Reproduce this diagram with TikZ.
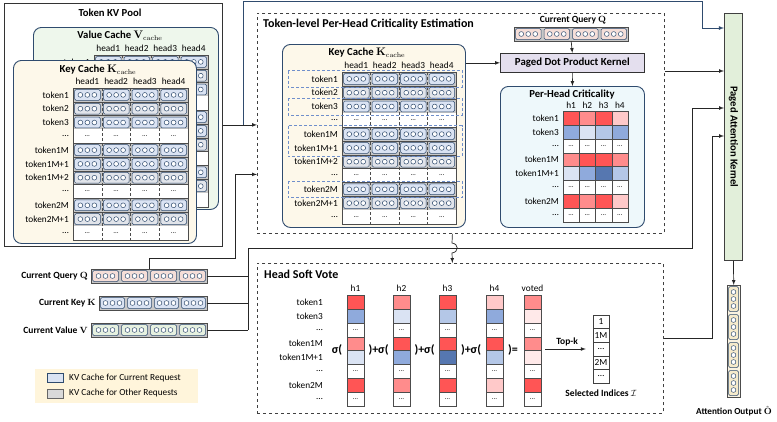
\documentclass[tikz,border=0pt]{standalone}
\usepackage[no-math]{fontspec}
\setmainfont{Carlito}
\usepackage{amsmath}
\usetikzlibrary{calc}

\definecolor{navy}{HTML}{2F4B6E}
\definecolor{rowgray}{HTML}{C8C8C8}
\definecolor{cellcur}{HTML}{DAE3F3}
\definecolor{cellother}{HTML}{E1E4EA}
\definecolor{kcream}{HTML}{FDF8EA}
\definecolor{vgreen}{HTML}{EEF7EC}
\definecolor{critbg}{HTML}{EEF8FB}
\definecolor{lav}{HTML}{E4DFEE}
\definecolor{pakgreen}{HTML}{E2EFDA}
\definecolor{qcell}{HTML}{F5DED8}
\definecolor{vcell}{HTML}{E6F1E0}
\definecolor{outcell}{HTML}{F5EACB}
\definecolor{legbg}{HTML}{FFF5DB}
\definecolor{hrA}{HTML}{FFE9E9}
\definecolor{hrB}{HTML}{FFC9C9}
\definecolor{hrC}{HTML}{FF8C8C}
\definecolor{hrD}{HTML}{FF5555}
\definecolor{hbA}{HTML}{DAE3F3}
\definecolor{hbB}{HTML}{B4C7E7}
\definecolor{hbC}{HTML}{8FAADC}
\definecolor{hbD}{HTML}{5677B0}
\definecolor{boxdash}{HTML}{6F8FCB}

\tikzset{
  ln/.style={line width=0.7pt, draw=black!85},
  arr/.style={ln, -latex},
  navyln/.style={line width=0.8pt, draw=navy, -latex},
  poolbox/.style={draw=black!80, line width=0.8pt, fill=white, anchor=north west, inner sep=0pt},
  cachebox/.style={draw=navy, line width=0.9pt, rounded corners=8pt, anchor=north west, inner sep=0pt},
  stagebox/.style={draw=black!75, dashed, line width=0.8pt, anchor=north west, inner sep=0pt},
  barnode/.style={anchor=north west, inner sep=0pt, minimum height=14pt},
  bigtitle/.style={font=\bfseries\fontsize{12}{14}\selectfont, inner sep=0pt},
  boxtitle/.style={font=\bfseries\fontsize{10.7}{12}\selectfont, inner sep=0pt},
  smalltitle/.style={font=\bfseries\fontsize{9.5}{11}\selectfont, inner sep=0pt},
  lbl/.style={font=\fontsize{9.3}{10}\selectfont, inner sep=0pt},
  dotlbl/.style={font=\fontsize{7}{8}\selectfont, inner sep=0pt},
  sigma/.style={font=\bfseries\fontsize{12}{14}\selectfont, inner sep=0pt},
  kvcell/.style={draw=navy, line width=0.5pt, rounded corners=1.5pt},
  dotc/.style={draw=navy, line width=0.5pt, fill=white},
  gridln/.style={draw=black!70, line width=0.5pt},
  heatcell/.style={draw=black!70, line width=0.4pt},
  reqbox/.style={draw=boxdash, densely dashed, line width=0.7pt},
}

% x0, y0, column width, row height, labelled rows
\newcommand{\kvgrid}[5]{%
  \foreach \h [count=\c from 0] in {head1,head2,head3,head4}
    \node[lbl] at ({#1+(\c+0.5)*#3},{#2-7}) {\h};
  \foreach \t/\k [count=\r from 0] in {token1/1,token2/2,token3/1,\dots/0,token1M/1,token1M+1/1,token1M+2/2,\dots/0,token2M/1,token2M+1/2,\dots/0} {
    \ifnum\r<#5\relax
      \node[lbl, anchor=east] at ({#1-4},{#2+(\r+0.5)*#4}) {\t};
    \fi
    \ifnum\k=0\relax
      \fill[white] ({#1},{#2+\r*#4}) rectangle ++({4*#3},{#4});
      \foreach \c in {0,...,3}
        \node[dotlbl] at ({#1+(\c+0.5)*#3},{#2+(\r+0.5)*#4}) {\dots};
    \else
      \ifnum\k=1\relax \colorlet{cf}{cellcur}\else \colorlet{cf}{cellother}\fi
      \fill[rowgray] ({#1},{#2+\r*#4}) rectangle ++({4*#3},{#4});
      \foreach \c in {0,...,3} {
        \draw[kvcell, fill=cf] ({#1+\c*#3+1.5},{#2+\r*#4+1.5}) rectangle ++({#3-3},{#4-3});
        \foreach \o in {-1,0,1}
          \draw[dotc] ({#1+(\c+0.5)*#3+\o*7},{#2+(\r+0.5)*#4}) circle (2.4pt);
      }
      \draw[gridln] ({#1},{#2+\r*#4}) rectangle ++({4*#3},{#4});
    \fi
  }
  \draw[gridln] ({#1},{#2}) rectangle ++({4*#3},{11*#4});
  \foreach \c in {1,2,3}
    \draw[gridln, densely dashed] ({#1+\c*#3},{#2}) -- ++(0,{11*#4});
}

% x0, y0, column width, cell colour
\newcommand{\qkvbar}[4]{%
  \fill[rowgray] ({#1},{#2}) rectangle ++({4*#3},14);
  \foreach \c in {0,...,3} {
    \draw[kvcell, fill=#4] ({#1+\c*#3+1.5},{#2+1.5}) rectangle ++({#3-3},11);
    \foreach \o in {-1,0,1}
      \draw[dotc] ({#1+(\c+0.5)*#3+\o*7},{#2+7}) circle (2.4pt);
  }
  \draw[gridln] ({#1},{#2}) rectangle ++({4*#3},14);
}

% x0, y0, width, colours
\newcommand{\heatcol}[4]{%
  \foreach \hc [count=\r from 0] in {#4}
    \draw[heatcell, fill=\hc] ({#1},{#2+\r*13.9}) rectangle ++({#3},13.9);
  \foreach \r in {2,5,7}
    \node[dotlbl] at ({#1+#3/2},{#2+(\r+0.5)*13.9}) {\dots};
}

\begin{document}
\begin{tikzpicture}[x=1pt, y=-1pt]
\useasboundingbox (0,0) rectangle (777,421);

% token kv pool
\node[poolbox, minimum width=218pt, minimum height=243pt] (pool) at (4,3) {};
\node[boxtitle] (pooltitle) at (110,13) {Token KV Pool};
\node[cachebox, fill=vgreen, minimum width=185pt, minimum height=182pt] (vcache) at (33,27) {};
\node[boxtitle] (vtitle) at (120,36) {Value Cache $\mathbf{V}_{\mathrm{cache}}$};
\kvgrid{94}{55}{28.5}{13.8}{1}
\node[cachebox, fill=kcream, minimum width=183pt, minimum height=183pt] (kcache) at (13,60) {};
\node[boxtitle] (ktitle) at (98,70) {Key Cache $\mathbf{K}_{\mathrm{cache}}$};
\kvgrid{73}{88}{28.75}{13.8}{11}

% criticality estimation
\node[stagebox, minimum width=407pt, minimum height=220pt] (est) at (257,13) {};
\node[bigtitle, anchor=west] (esttitle) at (263,24) {Token-level Per-Head Criticality Estimation};
\node[cachebox, fill=kcream, minimum width=183pt, minimum height=183pt] (ekc) at (282,44) {};
\node[boxtitle] (ekctitle) at (367,53) {Key Cache $\mathbf{K}_{\mathrm{cache}}$};
\kvgrid{342}{72}{28.5}{13.8}{11}
\foreach \a/\b in {0/1,2/3,4/6,8/9}
  \draw[reqbox] (288,{72+\a*13.8-1.5}) rectangle (462,{72+\b*13.8+1.5});

\node[smalltitle] (curqlbl) at (573,20) {Current Query $\mathbf{Q}$};
\node[barnode, minimum width=114pt] (curq) at (514,27) {};
\qkvbar{514}{27}{28.5}{qcell}
\node[draw=black!80, line width=0.7pt, fill=lav, minimum width=144pt, minimum height=19pt,
  anchor=north west, inner sep=0pt, font=\bfseries\fontsize{10.8}{12}\selectfont] (dotk) at (500,53) {Paged Dot Product Kernel};
\node[cachebox, fill=critbg, minimum width=144pt, minimum height=141pt] (crit) at (500,86) {};
\node[boxtitle] (crittitle) at (572,95) {Per-Head Criticality};
\foreach \h [count=\i from 0] in {h1,h2,h3,h4}
  \node[lbl] at ({563+(\i+0.5)*16.25},105) {\h};
\foreach \t [count=\r from 0] in {token1,token3,\dots,token1M,token1M+1,\dots,token2M,\dots}
  \node[lbl, anchor=east] at (559,{111+(\r+0.5)*13.9}) {\t};
\heatcol{563}{111}{16.25}{hrD,hbC,white,hrC,hbA,white,hrD,white}
\heatcol{579.25}{111}{16.25}{hrC,hbA,white,hrD,hbC,white,hrC,white}
\heatcol{595.5}{111}{16.25}{hrD,hbB,white,hrD,hbD,white,hrD,white}
\heatcol{611.75}{111}{16.25}{hrB,hbC,white,hrC,hbB,white,hrB,white}

% head soft vote
\node[stagebox, minimum width=406pt, minimum height=150pt] (vote) at (257,263) {};
\node[bigtitle, anchor=west] (votetitle) at (264,274) {Head Soft Vote};
\foreach \t [count=\r from 0] in {token1,token3,\dots,token1M,token1M+1,\dots,token2M,\dots}
  \node[lbl, anchor=east] at (323,{295+(\r+0.5)*13.9}) {\t};
\foreach \h/\x in {h1/347,h2/393,h3/439,h4/486,voted/524}
  \node[lbl] at ({\x+8.5},288) {\h};
\heatcol{347}{295}{17}{hrD,hbC,white,hrC,hbA,white,hrD,white}
\heatcol{393}{295}{17}{hrC,hbA,white,hrD,hbC,white,hrC,white}
\heatcol{439}{295}{17}{hrD,hbB,white,hrD,hbD,white,hrD,white}
\heatcol{486}{295}{17}{hrB,hbC,white,hrD,hbB,white,hrB,white}
\node[minimum width=17pt, minimum height=111.2pt, inner sep=0pt, anchor=north west] (voted) at (524,295) {};
\heatcol{524}{295}{17}{hrC,hrA,white,hrC,hrA,white,hrD,white}
\node[sigma] at (337,350) {σ(};
\node[sigma] at (378.5,350) {)+σ(};
\node[sigma] at (424.5,350) {)+σ(};
\node[sigma] at (471,350) {)+σ(};
\node[sigma] at (513,350) {)=};
\node[minimum width=16pt, minimum height=68pt, inner sep=0pt] (sel) at (601,349) {};
\foreach \s [count=\r from 0] in {1,1M,\dots,2M,\dots}
  \node[lbl, draw=black!75, line width=0.5pt, minimum width=16pt, minimum height=13.6pt] at (601,{315+(\r+0.5)*13.6}) {\s};
\node[smalltitle] (seltitle) at (601,393) {Selected Indices $\mathcal{I}$};
\draw[arr, shorten <=4pt, shorten >=7pt] (voted.east |- sel.west) -- node[above=3pt, smalltitle] {Top-k} (sel.west);

% current q, k, v
\node[smalltitle, anchor=east] (qlbl) at (88,276) {Current Query $\mathbf{Q}$};
\node[barnode, minimum width=116pt] (qbar) at (91,269) {};
\qkvbar{91}{269}{29}{qcell}
\node[smalltitle, anchor=east] (klbl) at (96,303) {Current Key $\mathbf{K}$};
\node[barnode, minimum width=108pt] (kbar) at (99,296) {};
\qkvbar{99}{296}{27}{cellcur}
\node[smalltitle, anchor=east] (vlbl) at (88,330) {Current Value $\mathbf{V}$};
\node[barnode, minimum width=116pt] (vbar) at (91,323) {};
\qkvbar{91}{323}{29}{vcell}

% legend
\node[fill=legbg, minimum width=163pt, minimum height=34pt, anchor=north west, inner sep=0pt] (legend) at (35,369) {};
\draw[draw=navy, line width=0.6pt, fill=cellcur] (47,373) rectangle (63,382);
\node[lbl, anchor=west] (legcur) at (69,378) {KV Cache for Current Request};
\draw[draw=black!60, line width=0.6pt, fill=black!15] (47,389) rectangle (63,398);
\node[lbl, anchor=west] (legoth) at (69,393.5) {KV Cache for Other Requests};

% paged attention kernel and output
\node[draw=black!75, line width=0.8pt, fill=pakgreen, minimum width=18pt, minimum height=247pt,
  anchor=north west, inner sep=0pt] (pak) at (724,13) {};
\node[rotate=-90, font=\bfseries\fontsize{10.6}{12}\selectfont, inner sep=0pt] at (pak.center) {Paged Attention Kernel};
\node[draw=black!70, line width=0.5pt, fill=outcell!60, minimum width=13pt, minimum height=112pt,
  anchor=north west, inner sep=0pt] (outcol) at (727,285) {};
\foreach \i in {0,...,3} {
  \draw[kvcell, fill=outcell] (728.5,{285+\i*28+1.5}) rectangle ++(10,25);
  \foreach \o in {-1,0,1}
    \draw[dotc] (733.5,{285+(\i+0.5)*28+\o*7}) circle (2.4pt);
}
\node[font=\bfseries\fontsize{9.2}{11}\selectfont, inner sep=0pt] (outlbl) at (734,411) {Attention Output $\hat{\mathbf{O}}$};

% connectors
\coordinate (br) at ($(pool.east)!0.6!(pool.east -| est.west)$);
\coordinate (pakkv) at ([yshift=-15pt]pak.north west);
\coordinate (pakest) at ([yshift=-58pt]pak.north west);
\coordinate (pakqkv) at ([yshift=-95pt]pak.north west);
\coordinate (pakidx) at ([yshift=-123pt]pak.north west);
\coordinate (bus) at (248,248);
\coordinate (hopx) at ([xshift=-8.5pt]est.south);

\draw[arr] (pool.east) -- (pool.east -| est.west);
\draw[navyln] (br) |- ([xshift=-22pt,yshift=12pt]pak.north west) |- (pakkv);
\draw[arr] (ekc.east |- dotk.west) -- (dotk.west);
\draw[arr] (curq.south) -- (dotk.north);
\draw[arr] (dotk.south) -- (crit.north);
\draw[arr] (est.east |- pakest) -- (pakest);
\draw[arr] (qbar.north) |- (235,258) |- ([yshift=-51pt]est.west);
\draw[ln] (qbar.east) -- (qbar.east -| bus);
\draw[ln] (kbar.east) -- (kbar.east -| bus);
\draw[ln] (vbar.east) -- (vbar.east -| bus);
\draw[arr] (vbar.east -| bus) -- (bus) -| ([xshift=-32pt]pakqkv) -- (pakqkv);
\draw[arr] (hopx) -- (452,243) .. controls (459,244) and (459,252) .. (452,253) -- (hopx |- vote.north);
\draw[arr] (vote.east) -| ([xshift=-12pt]pakidx) -- (pakidx);
\draw[arr] (pak.south) -- (outcol.north);
\end{tikzpicture}
\end{document}
